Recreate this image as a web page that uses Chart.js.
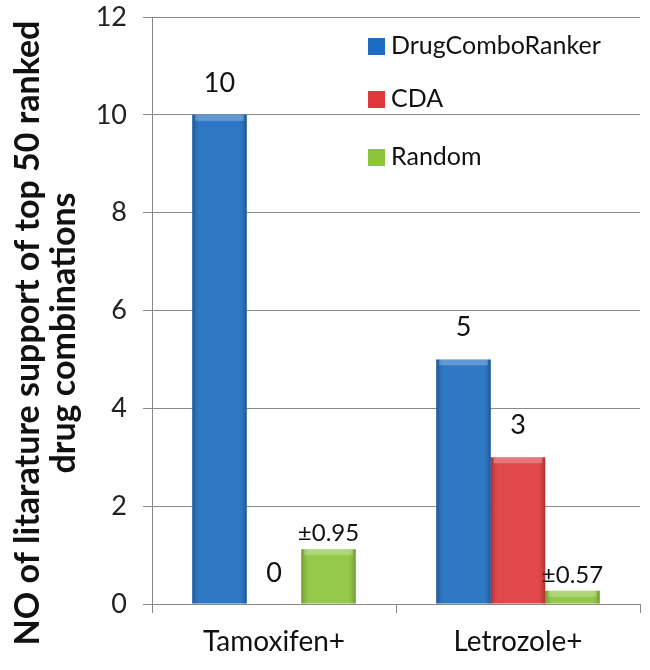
<!DOCTYPE html>
<html>
<head>
<meta charset="utf-8">
<script src="https://cdn.jsdelivr.net/npm/chart.js@4.4.0/dist/chart.umd.min.js"></script>
<style>
  html, body { margin: 0; padding: 0; background: #fff; }
  #wrap { width: 650px; height: 670px; }
</style>
</head>
<body>
<div id="wrap"><canvas id="chart" width="650" height="670"></canvas></div>
<script>
// categories and series
const categories = ['Tamoxifen+', 'Letrozole+'];
const seriesNames = ['DrugComboRanker', 'CDA', 'Random'];
const drugComboRanker = [10, 5];
const cda = [0, 3];
const random = [1.12, 0.27];
// text printed above each bar
const barLabels = [
  ['10', '5'],
  ['0', '3'],
  ['\u00b10.95', '\u00b10.57']
];
const yTicks = [0, 2, 4, 6, 8, 10, 12];
const yTitle = ['NO of litarature support of top 50 ranked', 'drug combinations'];

const colors = ['#1c6cc0', '#e0393b', '#8cc43c'];
const FONT = 'Lato, "Open Sans", sans-serif';

// bevel shading and the numbers over the bars
const barLabelPlugin = {
  id: 'barLabels',
  afterDatasetsDraw(chart) {
    const ctx = chart.ctx;
    ctx.save();
    chart.data.datasets.forEach((ds, i) => {
      chart.getDatasetMeta(i).data.forEach((bar) => {
        const h = bar.base - bar.y;
        if (h <= 0) return;
        const w = bar.width, x0 = bar.x - w / 2;
        const g = ctx.createLinearGradient(x0, 0, x0 + w, 0);
        g.addColorStop(0, 'rgba(0,0,0,0.22)');
        g.addColorStop(0.15, 'rgba(255,255,255,0.08)');
        g.addColorStop(0.85, 'rgba(255,255,255,0.08)');
        g.addColorStop(1, 'rgba(0,0,0,0.22)');
        ctx.fillStyle = g;
        ctx.fillRect(x0, bar.y, w, h);
        ctx.fillStyle = 'rgba(255,255,255,0.25)';
        ctx.fillRect(x0 + 3, bar.y, w - 6, Math.min(6, h));
      });
    });

    ctx.fillStyle = '#111';
    ctx.textAlign = 'center';
    ctx.textBaseline = 'alphabetic';
    chart.data.datasets.forEach((ds, i) => {
      const meta = chart.getDatasetMeta(i);
      meta.data.forEach((bar, j) => {
        const txt = barLabels[i][j];
        const small = txt.indexOf('\u00b1') === 0;
        ctx.font = (small ? '24px ' : '27px ') + FONT;
        let y = bar.y - (small ? 8 : 23);
        if (ds.data[j] === 0) y = bar.y - 22;
        ctx.fillText(txt, bar.x, y);
      });
    });
    ctx.restore();
  }
};

// legend inside the plot (top right) and the rotated y title
const innerLegend = {
  id: 'innerLegend',
  afterDraw(chart) {
    const ctx = chart.ctx;
    ctx.save();
    ctx.font = '25px ' + FONT;
    ctx.textBaseline = 'middle';
    ctx.textAlign = 'left';
    const x0 = 368, ys = [46, 99, 157];
    seriesNames.forEach((name, i) => {
      ctx.fillStyle = colors[i];
      ctx.fillRect(x0, ys[i] - 8, 17, 17);
      ctx.fillStyle = '#111';
      ctx.fillText(name, x0 + 23, ys[i]);
    });
    ctx.restore();

    ctx.save();
    ctx.translate(0, 333);
    ctx.rotate(-Math.PI / 2);
    ctx.font = 'bold 34px ' + FONT;
    ctx.fillStyle = '#111';
    ctx.textAlign = 'center';
    ctx.textBaseline = 'middle';
    ctx.fillText(yTitle[0], 0, 28);
    ctx.fillText(yTitle[1], 0, 64);
    ctx.restore();
  }
};

new Chart(document.getElementById('chart').getContext('2d'), {
  type: 'bar',
  data: {
    labels: categories,
    datasets: [
      { label: seriesNames[0], data: drugComboRanker, backgroundColor: colors[0] },
      { label: seriesNames[1], data: cda, backgroundColor: colors[1] },
      { label: seriesNames[2], data: random, backgroundColor: colors[2] }
    ]
  },
  options: {
    responsive: false,
    animation: false,
    layout: { padding: { top: 17, right: 10, left: 0, bottom: 0 } },
    datasets: { bar: { categoryPercentage: 0.67, barPercentage: 1 } },
    plugins: {
      legend: { display: false },
      tooltip: { enabled: false }
    },
    scales: {
      x: {
        afterFit(axis) { axis.height = 66; },
        grid: { display: true, drawOnChartArea: false, drawTicks: true, tickLength: 9, color: '#888', offset: true },
        border: { color: '#888' },
        ticks: { color: '#111', font: { family: FONT, size: 28 }, padding: 12 }
      },
      y: {
        min: 0,
        max: 12,
        afterBuildTicks(axis) { axis.ticks = yTicks.map(v => ({ value: v })); },
        afterFit(axis) { axis.width = 152; axis.paddingTop = 0; axis.paddingBottom = 0; },
        grid: { color: '#8a8a8a', tickLength: 9 },
        border: { color: '#888' },
        ticks: { color: '#222', font: { family: FONT, size: 27 }, padding: 16 },
        title: { display: false }
      }
    }
  },
  plugins: [barLabelPlugin, innerLegend]
});
</script>
</body>
</html>
